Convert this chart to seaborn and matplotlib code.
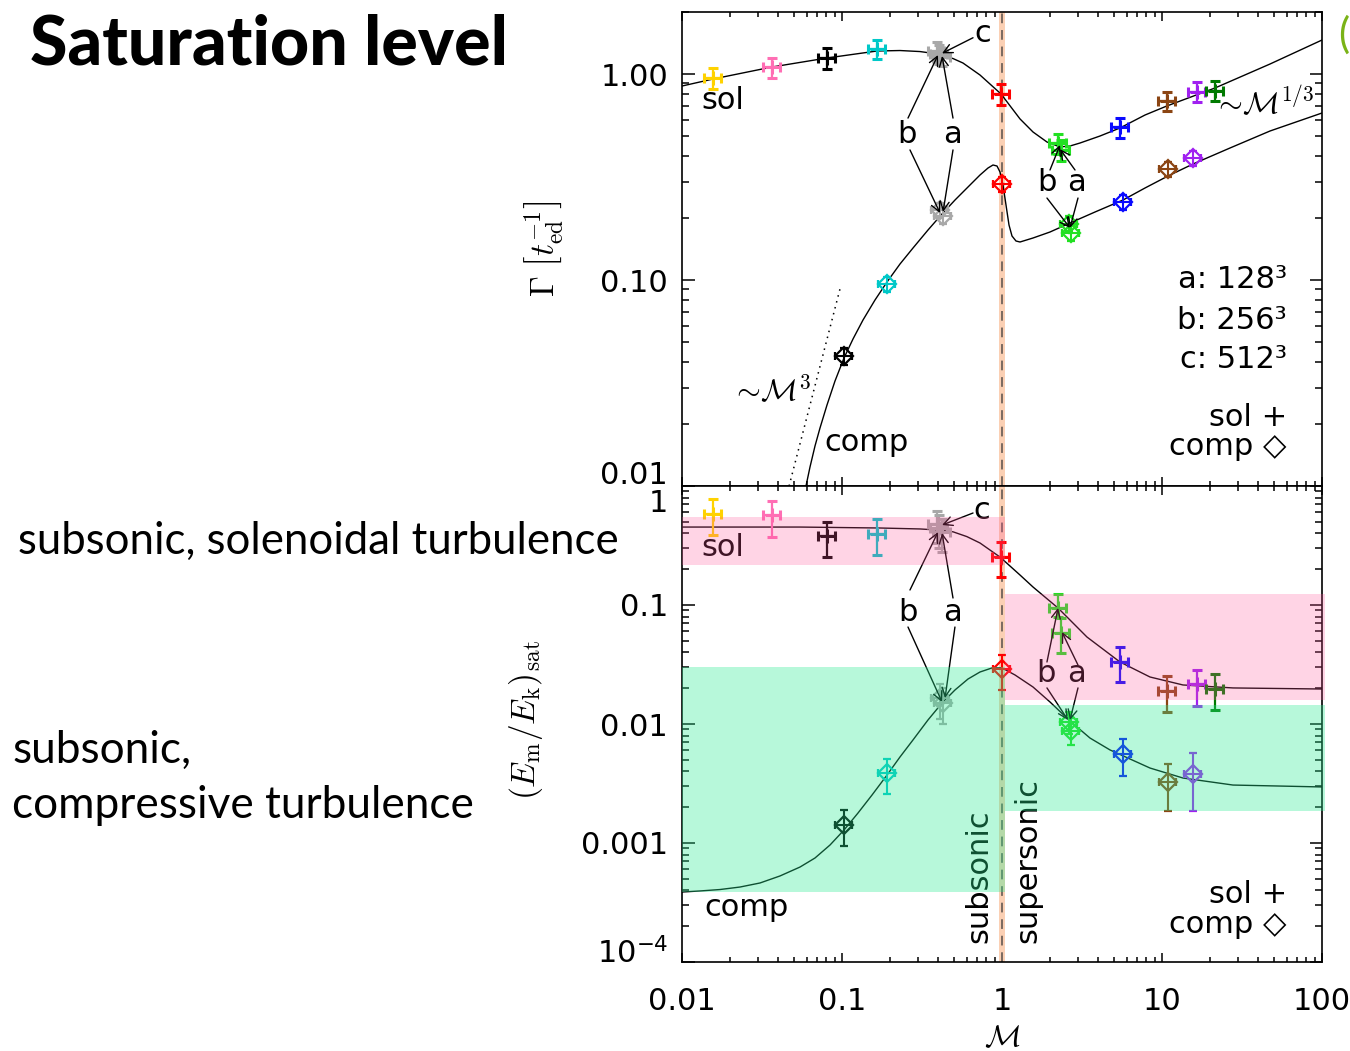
import numpy as np
import matplotlib
matplotlib.use("Agg")
import matplotlib.pyplot as plt
import matplotlib.transforms as mtransforms
from matplotlib.ticker import LogLocator, FixedLocator, FixedFormatter, NullFormatter
import seaborn as sns

# ---------------------------------------------------------------- data
# colour of each run, ordered by Mach number
palette = {
    "gold": "#ffd200", "pink": "#ff6eb4", "black": "#000000", "cyan": "#00c8c8",
    "gray": "#a8a8a8", "red": "#ff0000", "green": "#22e022", "blue": "#0a0aff",
    "brown": "#8b4513", "purple": "#a020f0", "dkgreen": "#007a00",
}

# solenoidal forcing runs
sol_mach = [0.0156, 0.0365, 0.0805, 0.165, 0.39, 0.405, 0.42, 0.99, 2.25, 2.33, 5.47, 10.7, 16.5, 21.4]
sol_mach_err = [0.0019, 0.0044, 0.0097, 0.020, 0.047, 0.049, 0.05, 0.12, 0.27, 0.28, 0.66, 1.3, 2.0, 2.6]
sol_colors = ["gold", "pink", "black", "cyan", "gray", "gray", "gray", "red", "green", "green",
              "blue", "brown", "purple", "dkgreen"]
sol_growth = [0.96, 1.08, 1.20, 1.32, 1.29, 1.25, 1.21, 0.80, 0.46, 0.43, 0.55, 0.74, 0.82, 0.83]
sol_growth_err = [0.11, 0.12, 0.14, 0.14, 0.14, 0.13, 0.12, 0.09, 0.05, 0.05, 0.06, 0.08, 0.09, 0.09]
sol_ratio = [0.58, 0.57, 0.38, 0.395, 0.48, 0.44, 0.41, 0.253, 0.094, 0.058, 0.033, 0.019, 0.0217, 0.0196]
sol_ratio_lo = [0.39, 0.373, 0.253, 0.263, 0.33, 0.30, 0.28, 0.172, 0.0793, 0.0395, 0.0226, 0.0126, 0.0142, 0.0131]
sol_ratio_hi = [0.78, 0.748, 0.498, 0.528, 0.62, 0.57, 0.53, 0.338, 0.124, 0.0776, 0.0445, 0.0253, 0.0284, 0.0264]

# compressive forcing runs
comp_mach = [0.103, 0.191, 0.41, 0.43, 1.0, 2.64, 2.70, 5.7, 10.9, 15.6]
comp_mach_err = [0.012, 0.023, 0.05, 0.052, 0.12, 0.32, 0.33, 0.69, 1.3, 1.9]
comp_colors = ["black", "cyan", "gray", "gray", "red", "green", "green", "blue", "brown", "purple"]
comp_growth = [0.0428, 0.0957, 0.218, 0.204, 0.292, 0.188, 0.170, 0.239, 0.346, 0.391]
comp_growth_err = [0.004, 0.008, 0.018, 0.017, 0.025, 0.016, 0.015, 0.02, 0.03, 0.033]
comp_ratio = [0.00142, 0.00387, 0.0165, 0.0150, 0.029, 0.0104, 0.0088, 0.0056, 0.00326, 0.0038]
comp_ratio_lo = [0.000943, 0.00258, 0.0110, 0.0100, 0.0193, 0.0082, 0.0067, 0.00366, 0.00186, 0.00186]
comp_ratio_hi = [0.00189, 0.00508, 0.0217, 0.0200, 0.038, 0.0126, 0.0112, 0.00748, 0.00461, 0.0057]

# fitted curves (log10 Mach, log10 value)
fit_growth_sol_logm = [-2.0, -1.806, -1.4375, -1.094, -0.781, -0.6375, -0.5125, -0.4, -0.306, -0.244,
                       -0.1375, -0.006, 0.1125, 0.194, 0.281, 0.3625, 0.425, 0.4875, 0.6125, 0.7375,
                       0.894, 1.031, 1.331, 1.675, 2.0]
fit_growth_sol_logg = [-0.0583, -0.0243, 0.034, 0.0777, 0.1117, 0.114, 0.109, 0.097, 0.075, 0.0534,
                       -0.00485, -0.097, -0.218, -0.2816, -0.330, -0.354, -0.3495, -0.335, -0.301, -0.262,
                       -0.199, -0.155, -0.068, 0.0485, 0.165]
fit_growth_comp_logm = [-1.225, -1.2, -1.16875, -1.1375, -1.09375, -1.04375, -0.9875, -0.93125, -0.86875,
                        -0.79375, -0.71875, -0.6375, -0.55625, -0.4625, -0.375, -0.29375, -0.2125, -0.1375,
                        -0.0875, -0.05625, -0.03125, -0.0125, 0.00625, 0.025, 0.04375, 0.0625, 0.0875,
                        0.1125, 0.19375, 0.3, 0.425, 0.58125, 0.75625, 0.89375, 1.0375, 1.19375, 1.425,
                        1.675, 2.0]
fit_growth_comp_logg = [-2.0, -1.9078, -1.8058, -1.7184, -1.6068, -1.4903, -1.3786, -1.2864, -1.1942,
                        -1.0971, -1.0097, -0.9223, -0.8447, -0.7573, -0.6796, -0.6117, -0.5485, -0.4903,
                        -0.4563, -0.4417, -0.4466, -0.4757, -0.5388, -0.6359, -0.7330, -0.7864, -0.8107,
                        -0.8155, -0.7961, -0.7670, -0.7233, -0.6699, -0.6117, -0.5534, -0.4951, -0.4369,
                        -0.3592, -0.2767, -0.1893]
fit_ratio_sol_logm = [-2.0, -1.2625, -0.7625, -0.5125, -0.4, -0.306, -0.22, -0.1375, -0.0125, 0.1125,
                      0.194, 0.35, 0.531, 0.7375, 0.925, 1.131, 1.444, 2.0]
fit_ratio_sol_logr = [-0.345, -0.345, -0.353, -0.361, -0.370, -0.385, -0.425, -0.479, -0.597, -0.748,
                      -0.849, -1.025, -1.269, -1.479, -1.605, -1.672, -1.697, -1.706]
fit_ratio_comp_logm = [-2.0, -1.8875, -1.7625, -1.6375, -1.5125, -1.3875, -1.2625, -1.16875, -1.075,
                       -0.9875, -0.9, -0.8125, -0.71875, -0.6375, -0.55625, -0.4625, -0.375, -0.29375,
                       -0.2125, -0.1375, -0.0625, 0.0, 0.08125, 0.19375, 0.3, 0.425, 0.55, 0.675, 0.8,
                       0.925, 1.13125, 1.44375, 2.0]
fit_ratio_comp_logr = [-3.412, -3.403, -3.391, -3.370, -3.336, -3.277, -3.202, -3.126, -3.017,
                       -2.891, -2.748, -2.597, -2.429, -2.277, -2.134, -1.966, -1.824, -1.714,
                       -1.622, -1.563, -1.529, -1.529, -1.588, -1.689, -1.815, -1.975, -2.118, -2.218,
                       -2.294, -2.370, -2.454, -2.513, -2.529]

# M^3 guide line
cube_mach = [0.0467, 0.0986]
cube_growth = [0.01, 0.0946]

# sonic boundary and shaded saturation ranges (mach_lo, mach_hi, val_lo, val_hi)
sonic_band = (0.955, 1.045)
sol_sub_range = (0.01, 1.045, 0.217, 0.549)
sol_sup_range = (1.045, 104.0, 0.0159, 0.124)
comp_sub_range = (0.01, 1.045, 0.000387, 0.0300)
comp_sup_range = (1.045, 104.0, 0.00186, 0.0144)

# ---------------------------------------------------------------- style
sns.set_theme(style="ticks")
plt.rcParams["font.family"] = ["DejaVu Sans"]
plt.rcParams.update({"text.color": "black", "axes.labelcolor": "black",
                     "xtick.color": "black", "ytick.color": "black", "axes.linewidth": 1.2})
FS = 22

fig = plt.figure(figsize=(13.5, 10.51), dpi=100)
ax1 = fig.add_axes([682 / 1350, 1 - 486 / 1051, 640 / 1350, 474 / 1051])
ax2 = fig.add_axes([682 / 1350, 1 - 962 / 1051, 640 / 1350, 476 / 1051])

for ax in (ax1, ax2):
    ax.set_xscale("log")
    ax.set_yscale("log")
    ax.set_xlim(0.01, 100)
    ax.set_facecolor("white")
    for s in ax.spines.values():
        s.set_color("black")
        s.set_linewidth(1.2)
    ax.xaxis.set_major_locator(FixedLocator([0.01, 0.1, 1, 10, 100]))
    ax.xaxis.set_minor_locator(LogLocator(base=10, subs=np.arange(2, 10), numticks=50))
    ax.yaxis.set_minor_locator(LogLocator(base=10, subs=np.arange(2, 10), numticks=50))
    ax.xaxis.set_minor_formatter(NullFormatter())
    ax.yaxis.set_minor_formatter(NullFormatter())
    ax.tick_params(which="both", direction="in", top=True, right=True, color="black",
                   width=1.1, labelsize=FS, labelcolor="black")
    ax.tick_params(axis="x", which="major", length=6.5, pad=18)
    ax.tick_params(axis="x", which="minor", length=3.6)
    ax.tick_params(axis="y", which="major", length=9, pad=10)
    ax.tick_params(axis="y", which="minor", length=5)
    # sonic boundary
    ax.axvspan(*sonic_band, color="#fbd0b4", lw=0, zorder=1)
    ax.axvline(1.0, color="#7a6a60", lw=1.4, ls=(0, (5, 3.5)), zorder=2)

ax1.set_ylim(0.01, 2.0)
ax2.set_ylim(1e-4, 1.0)
ax1.yaxis.set_major_locator(FixedLocator([0.01, 0.1, 1.0]))
ax1.yaxis.set_major_formatter(FixedFormatter(["0.01", "0.10", "1.00"]))
ax1.xaxis.set_major_formatter(NullFormatter())
ax2.yaxis.set_major_locator(FixedLocator([1e-4, 1e-3, 1e-2, 0.1, 1.0]))
ax2.yaxis.set_major_formatter(FixedFormatter([r"$\mathdefault{10^{-4}}$", "0.001", "0.01", "0.1", "1"]))
ax2.xaxis.set_major_formatter(FixedFormatter(["0.01", "0.1", "1", "10", "100"]))


def draw_points(ax, mach, mach_err, vals, lo, hi, colors, marker):
    for m, me, v, l, h, c in zip(mach, mach_err, vals, lo, hi, colors):
        col = palette[c]
        if marker == "+":
            ax.errorbar([m], [v], xerr=[[me], [me]], yerr=[[v - l], [h - v]], fmt="+", ms=10, mew=2.2,
                        color=col, ecolor=col, elinewidth=1.6, capsize=3.6, capthick=1.6, zorder=4)
        else:
            ax.errorbar([m], [v], xerr=[[me], [me]], yerr=[[v - l], [h - v]], fmt="D", ms=9.5, mew=1.6,
                        mfc="none", mec=col, color=col, ecolor=col, elinewidth=1.5, capsize=3.2,
                        capthick=1.5, zorder=4)


def draw_fit(ax, logm, logv, **kw):
    sns.lineplot(x=10 ** np.array(logm), y=10 ** np.array(logv), ax=ax, color="black",
                 estimator=None, sort=False, zorder=3, **kw)


# ---------------------------------------------------------------- growth rate panel
draw_fit(ax1, fit_growth_sol_logm, fit_growth_sol_logg, lw=1.0)
draw_fit(ax1, fit_growth_comp_logm, fit_growth_comp_logg, lw=1.0)
sns.lineplot(x=cube_mach, y=cube_growth, ax=ax1, color="black", lw=1.1, ls=(0, (1, 3)), zorder=3)
draw_points(ax1, sol_mach, sol_mach_err, sol_growth,
            np.array(sol_growth) - np.array(sol_growth_err), np.array(sol_growth) + np.array(sol_growth_err),
            sol_colors, "+")
draw_points(ax1, comp_mach, comp_mach_err, comp_growth,
            np.array(comp_growth) - np.array(comp_growth_err), np.array(comp_growth) + np.array(comp_growth_err),
            comp_colors, "D")

# ---------------------------------------------------------------- saturation panel
draw_fit(ax2, fit_ratio_sol_logm, fit_ratio_sol_logr, lw=1.0)
draw_fit(ax2, fit_ratio_comp_logm, fit_ratio_comp_logr, lw=1.0)
draw_points(ax2, sol_mach, sol_mach_err, sol_ratio, sol_ratio_lo, sol_ratio_hi, sol_colors, "+")
draw_points(ax2, comp_mach, comp_mach_err, comp_ratio, comp_ratio_lo, comp_ratio_hi, comp_colors, "D")

for (x0, x1, y0, y1), col, a in [(sol_sub_range, "#ff559b", 0.25), (sol_sup_range, "#ff559b", 0.25),
                                 (comp_sub_range, "#2ceb93", 0.34), (comp_sup_range, "#2ceb93", 0.34)]:
    ax2.fill_between([x0, x1], [y0, y0], [y1, y1], color=col, alpha=a, lw=0, zorder=10, clip_on=False)

# ---------------------------------------------------------------- annotations
arrow = dict(arrowstyle="->", lw=1.0, color="black", shrinkA=0, shrinkB=0, mutation_scale=16)


def arrows(ax, pairs):
    for tail, tip in pairs:
        ax.annotate("", xy=tip, xytext=tail, arrowprops=arrow, zorder=5)


txt = dict(fontsize=FS, color="black", ha="center", va="center", zorder=6)
ax1.text(0.76, 1.58, "c", **txt)
ax1.text(0.255, 0.506, "b", **txt)
ax1.text(0.487, 0.506, "a", **txt)
ax1.text(1.91, 0.296, "b", **txt)
ax1.text(2.94, 0.296, "a", **txt)
arrows(ax1, [((0.659, 1.50), (0.422, 1.26)),
             ((0.2585, 0.611), (0.398, 1.236)), ((0.494, 0.611), (0.422, 1.223)),
             ((0.266, 0.428), (0.410, 0.2115)), ((0.494, 0.428), (0.428, 0.214)),
             ((1.995, 0.342), (2.305, 0.452)), ((2.86, 0.342), (2.305, 0.432)),
             ((1.91, 0.25), (2.66, 0.179)), ((2.985, 0.25), (2.66, 0.179))])

ax2.text(0.75, 0.628, "c", **txt)
ax2.text(0.2585, 0.0873, "b", **txt)
ax2.text(0.487, 0.0873, "a", **txt)
ax2.text(1.884, 0.0268, "b", **txt)
ax2.text(2.94, 0.0268, "a", **txt)
arrows(ax2, [((0.659, 0.593), (0.422, 0.47)),
             ((0.266, 0.1337), (0.398, 0.41)), ((0.494, 0.1145), (0.422, 0.403)),
             ((0.2585, 0.0653), (0.422, 0.0153)), ((0.508, 0.0653), (0.4406, 0.0165)),
             ((1.91, 0.0332), (2.24, 0.0944)), ((2.985, 0.0313), (2.37, 0.0593)),
             ((1.91, 0.0201), (2.585, 0.0108)), ((2.985, 0.0201), (2.66, 0.0108))])

ax1.text(0.064, 0.814, "sol", transform=ax1.transAxes, **txt)
ax1.text(0.2875, 0.091, "comp", transform=ax1.transAxes, **txt)
ax1.text(0.139, 0.2025, r"$\sim\!\mathcal{M}^3$", transform=ax1.transAxes, math_fontfamily="cm",
         fontsize=FS, ha="center", va="center")
ax1.text(0.909, 0.808, r"$\sim\!\mathcal{M}^{1/3}$", transform=ax1.transAxes, math_fontfamily="cm",
         fontsize=FS, ha="center", va="center")
right = dict(fontsize=FS, color="black", ha="right", va="center", zorder=6)
ax1.text(0.945, 0.4346, "a: 128³", transform=ax1.transAxes, **right)
ax1.text(0.945, 0.350, "b: 256³", transform=ax1.transAxes, **right)
ax1.text(0.945, 0.266, "c: 512³", transform=ax1.transAxes, **right)
ax1.text(0.945, 0.1435, "sol +", transform=ax1.transAxes, **right)
ax1.text(0.945, 0.0823, "comp ◇", transform=ax1.transAxes, **right)

ax2.text(0.064, 0.870, "sol", transform=ax2.transAxes, **txt)
ax2.text(0.10, 0.1155, "comp", transform=ax2.transAxes, **txt)
ax2.text(0.945, 0.141, "sol +", transform=ax2.transAxes, **right)
ax2.text(0.945, 0.078, "comp ◇", transform=ax2.transAxes, **right)
ax2.text(0.464, 0.04, "subsonic", transform=ax2.transAxes, rotation=90, fontsize=FS,
         ha="center", va="bottom", zorder=6)
ax2.text(0.5406, 0.04, "supersonic", transform=ax2.transAxes, rotation=90, fontsize=FS,
         ha="center", va="bottom", zorder=6)

# axis titles
ax1.set_ylabel(r"$\Gamma\ \left[t_{\rm ed}^{-1}\right]$", fontsize=24, math_fontfamily="cm")
ax1.yaxis.set_label_coords(-0.183, 0.5)
ax2.set_ylabel(r"$\left(E_{\rm m}/E_{\rm k}\right)_{\rm sat}$", fontsize=24, math_fontfamily="cm")
ax2.yaxis.set_label_coords(-0.214, 0.508)
ax2.set_xlabel(r"$\mathcal{M}$", fontsize=FS, math_fontfamily="cm")
ax2.xaxis.set_label_coords(0.5, -0.128)


def shift_label(ax, idx, dy_px):
    lbl = ax.yaxis.get_major_ticks()[idx].label1
    lbl.set_transform(lbl.get_transform()
                      + mtransforms.ScaledTranslation(0, dy_px / 100, fig.dpi_scale_trans))


# keep the labels at the panel edges inside the frame and apart from each other
shift_label(ax1, 0, 14)
shift_label(ax2, 4, -15)
shift_label(ax2, 0, 12)

# slide headings
fig.text(30 / 1350, 1 - 45 / 1051, "Saturation level", fontsize=49, fontweight=900,
         family=["Lato", "DejaVu Sans"], ha="left", va="center")
fig.text(18 / 1350, 1 - 541 / 1051, "subsonic, solenoidal turbulence", fontsize=31.5,
         family=["Lato", "DejaVu Sans"], ha="left", va="center")
fig.text(12 / 1350, 1 - 750 / 1051, "subsonic,", fontsize=31.8,
         family=["Lato", "DejaVu Sans"], ha="left", va="center")
fig.text(12 / 1350, 1 - 805 / 1051, "compressive turbulence", fontsize=31.8,
         family=["Lato", "DejaVu Sans"], ha="left", va="center")
fig.text(1338 / 1350, 1 - 35 / 1051, "(", fontsize=30, color="#7ab317",
         family=["Lato", "DejaVu Sans"], ha="left", va="center")

fig.savefig("out.png", dpi=100, facecolor="white")
